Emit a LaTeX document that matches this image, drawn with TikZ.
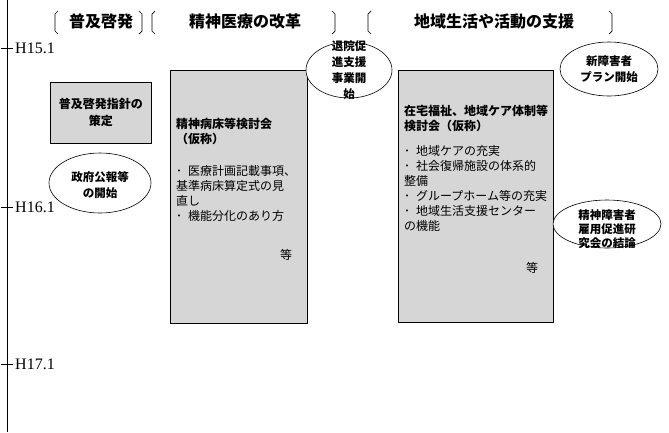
\documentclass[tikz,border=0pt]{standalone}
\usepackage{fontspec}
\setmainfont{Liberation Serif}
\newfontfamily\jp{Noto Sans CJK JP}
\usetikzlibrary{shapes.geometric}
\begin{document}
\begin{tikzpicture}[x=1pt,y=-1pt,
  panel/.style={draw=black, line width=0.9pt, fill=gray!32},
  bubble/.style={draw=black, line width=0.6pt, fill=white, ellipse, inner sep=0pt},
  btxt/.style={font=\jp\bfseries\fontsize{11.5}{15.5}\selectfont, align=center, inner sep=0pt},
  body/.style={font=\jp\fontsize{12}{15}\selectfont, align=left, inner sep=0pt, anchor=north west},
  head/.style={font=\jp\bfseries\fontsize{16}{16}\selectfont, inner sep=0pt},
  brk/.style={line width=0.7pt},
  axislbl/.style={font=\fontsize{16}{16}\selectfont, inner sep=0pt, anchor=west}]
\useasboundingbox (0,0) rectangle (669,432);
% axis
\coordinate (atop) at (7,0);
\coordinate (abot) at (7,432);
\draw[line width=0.9pt] (atop) -- (abot);
\foreach \yy/\lab [count=\i] in {48/H15.1, 207/H16.1, 364/H17.1}{
  \coordinate (tl\i) at (1,\yy);
  \coordinate (tr\i) at (13,\yy);
  \draw[line width=0.7pt] (tl\i) -- (tr\i);
  \node[axislbl] (lab\i) at (15,\yy) {\lab};
}
% header brackets
\foreach \xx in {55,152,368}{
  \draw[brk] (\xx+3,11) -- (\xx,14) -- (\xx,31) -- (\xx+3,34);
}
\foreach \xx in {142,335,612}{
  \draw[brk] (\xx-3,11) -- (\xx,14) -- (\xx,31) -- (\xx-3,34);
}
\node[head] (h1) at (101,21) {普及啓発};
\node[head] (h2) at (245,21) {精神医療の改革};
\node[head] (h3) at (494,21) {地域生活や活動の支援};
% boxes
\node[panel, minimum width=101pt, minimum height=61pt, anchor=north west] (b1) at (50,82) {};
\node[btxt, font=\jp\bfseries\fontsize{12}{17}\selectfont] (b1t) at (b1.center) {普及啓発指針の\\策定};
\node[panel, minimum width=137pt, minimum height=253pt, anchor=north west] (b2) at (170,70) {};
\node[body] (b2t) at (176,118) {{\bfseries 精神病床等検討会}\\{\bfseries （仮称）}\\[17pt]
 ･\hspace{6pt}医療計画記載事項、\\基準病床算定式の見\\直し\\･\hspace{6pt}機能分化のあり方};
\node[body, anchor=center] (b2e) at (286,255) {等};
\node[panel, minimum width=155pt, minimum height=252pt, anchor=north west] (b3) at (398,70) {};
\node[body] (b3t) at (404,105) {{\bfseries 在宅福祉、地域ケア体制等}\\{\bfseries 検討会（仮称）}\\[10pt]
 ･\hspace{6pt}地域ケアの充実\\･\hspace{6pt}社会復帰施設の体系的\\整備\\･\hspace{6pt}グループホーム等の充実\\･\hspace{6pt}地域生活支援センター\\の機能};
\node[body, anchor=center] (b3e) at (532,268) {等};
% ellipses
\node[bubble, minimum width=86pt, minimum height=56pt] (e1) at (349,70) {};
\node[btxt, font=\jp\bfseries\fontsize{11.5}{16}\selectfont] (e1t) at (349,70) {退院促\\進支援\\事業開\\始};
\node[bubble, minimum width=98pt, minimum height=54pt] (e2) at (609,69) {};
\node[btxt] (e2t) at (609,69) {新障害者\\プラン開始};
\node[bubble, minimum width=102pt, minimum height=60pt] (e3) at (100,183) {};
\node[btxt] (e3t) at (100,185) {政府公報等\\の開始};
\node[bubble, minimum width=108pt, minimum height=48pt] (e4) at (607,224) {};
\node[btxt, font=\jp\bfseries\fontsize{11.5}{14}\selectfont] (e4t) at (607,229) {精神障害者\\雇用促進研\\究会の結論};
\end{tikzpicture}
\end{document}
